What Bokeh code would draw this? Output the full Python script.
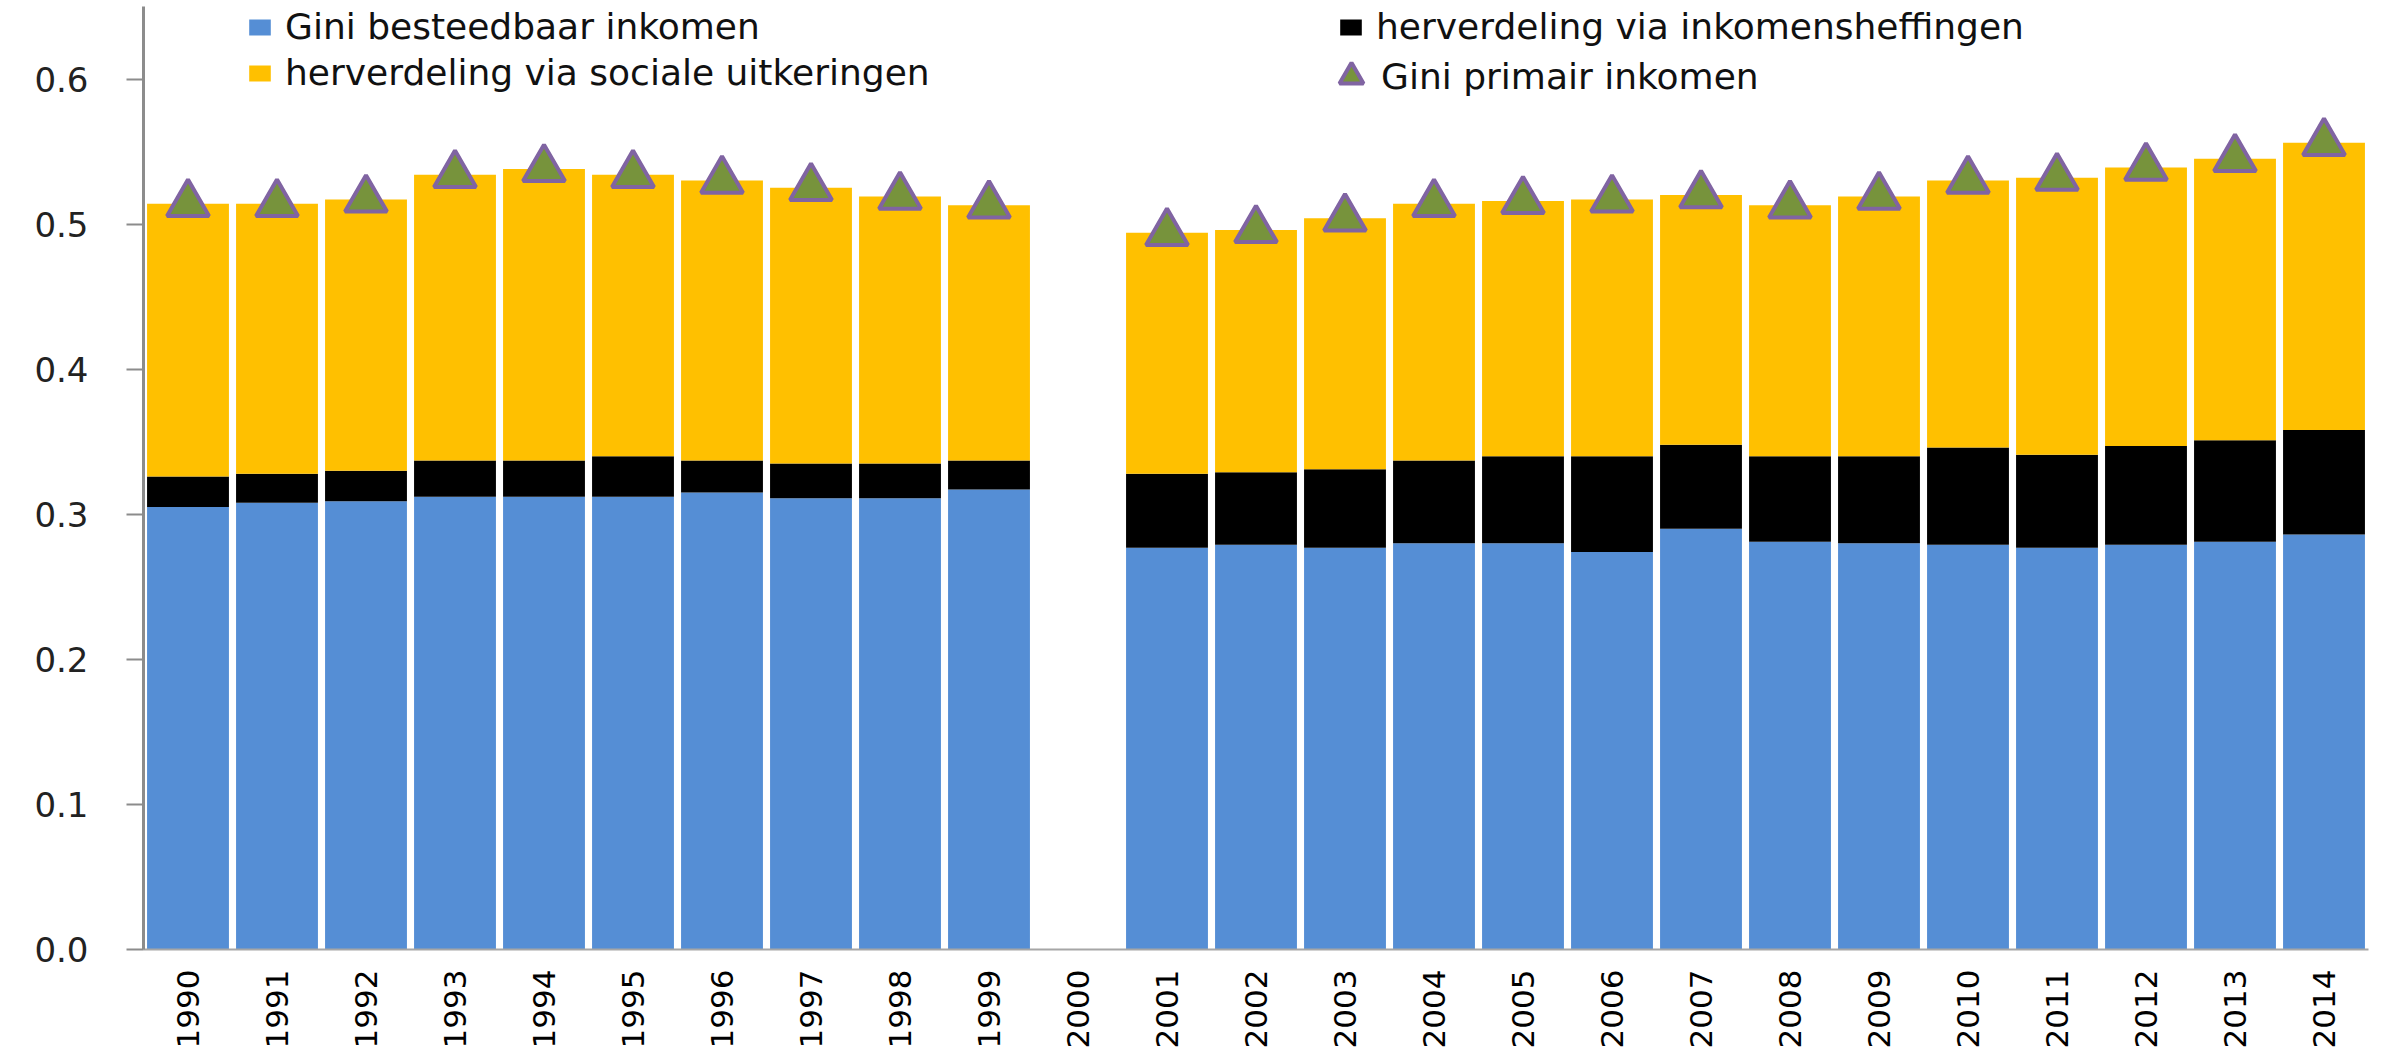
import math
import numpy as np
from bokeh.plotting import figure
from bokeh.models import (ColumnDataSource, FactorRange, Range1d, FixedTicker,
                          NumeralTickFormatter, Legend, LegendItem)
from bokeh.embed import file_html
from bokeh.resources import INLINE

nan = float("nan")

years = [str(y) for y in range(1990, 2015)]

# Gini besteedbaar inkomen (blue)
gini_besteedbaar = [0.305, 0.308, 0.309, 0.312, 0.312, 0.312, 0.315, 0.311, 0.311, 0.317,
                    nan,
                    0.277, 0.279, 0.277, 0.280, 0.280, 0.274, 0.290, 0.281, 0.280,
                    0.279, 0.277, 0.279, 0.281, 0.286]
# herverdeling via inkomensheffingen (black)
herv_heffingen = [0.021, 0.020, 0.021, 0.025, 0.025, 0.028, 0.022, 0.024, 0.024, 0.020,
                  nan,
                  0.051, 0.050, 0.054, 0.057, 0.060, 0.066, 0.058, 0.059, 0.060,
                  0.067, 0.064, 0.068, 0.070, 0.072]
# herverdeling via sociale uitkeringen (yellow)
herv_uitkeringen = [0.188, 0.186, 0.187, 0.197, 0.201, 0.194, 0.193, 0.190, 0.184, 0.176,
                    nan,
                    0.166, 0.167, 0.173, 0.177, 0.176, 0.177, 0.172, 0.173, 0.179,
                    0.184, 0.191, 0.192, 0.194, 0.198]
# Gini primair inkomen (triangles)
gini_primair = [0.514, 0.514, 0.517, 0.534, 0.538, 0.534, 0.530, 0.525, 0.519, 0.513,
                nan,
                0.494, 0.496, 0.504, 0.514, 0.516, 0.517, 0.520, 0.513, 0.519,
                0.530, 0.532, 0.539, 0.545, 0.556]

y_ticks = [0.0, 0.1, 0.2, 0.3, 0.4, 0.5, 0.6]

source = ColumnDataSource(data=dict(
    year=years,
    blue=np.array(gini_besteedbaar, dtype=float),
    black=np.array(herv_heffingen, dtype=float),
    yellow=np.array(herv_uitkeringen, dtype=float),
    prim=np.array(gini_primair, dtype=float),
))

FONT = "DejaVu Sans"

p = figure(x_range=FactorRange(*years), y_range=Range1d(0, 0.65),
           frame_width=2225, frame_height=943,
           min_border_left=143, min_border_right=2, min_border_top=6, min_border_bottom=99,
           output_backend="svg", toolbar_location=None, tools="")

p.outline_line_color = None
p.xgrid.visible = False
p.ygrid.visible = False

bars = p.vbar_stack(["blue", "black", "yellow"], x="year", width=0.92, source=source,
                    color=["#558ED5", "#000000", "#FFC000"], line_color=None)

tri = p.scatter(x="year", y="prim", source=source, marker="triangle", size=42,
                fill_color="#77933C", line_color="#8064A2", line_width=4)

# y axis
p.yaxis.ticker = FixedTicker(ticks=y_ticks)
p.yaxis.formatter = NumeralTickFormatter(format="0.0")
p.yaxis.axis_line_color = "#8C8C8C"
p.yaxis.axis_line_width = 3
p.yaxis.major_tick_line_color = "#8C8C8C"
p.yaxis.major_tick_line_width = 2
p.yaxis.major_tick_out = 17
p.yaxis.major_tick_in = 0
p.yaxis.minor_tick_line_color = None
p.yaxis.major_label_standoff = 38
p.yaxis.major_label_text_font = FONT
p.yaxis.major_label_text_font_size = "34px"
p.yaxis.major_label_text_color = "#222222"

# x axis
p.xaxis.axis_line_color = "#A6A6A6"
p.xaxis.axis_line_width = 2
p.xaxis.major_tick_line_color = None
p.xaxis.major_tick_out = 0
p.xaxis.major_tick_in = 0
p.xaxis.minor_tick_line_color = None
p.xaxis.major_label_orientation = math.pi / 2
p.xaxis.major_label_standoff = 20
p.xaxis.major_label_text_font = FONT
p.xaxis.major_label_text_font_size = "31px"
p.xaxis.major_label_text_color = "#000000"


def make_legend(item, loc, gw, gh, standoff):
    return Legend(items=[item], location=loc, orientation="vertical",
                  padding=0, margin=0, spacing=0,
                  label_text_font=FONT, label_text_font_size="36px",
                  label_text_color="#111111", label_standoff=standoff,
                  glyph_width=gw, glyph_height=gh, label_height=20,
                  border_line_color=None, background_fill_alpha=0)


legends = [
    make_legend(LegendItem(label="Gini besteedbaar inkomen", renderers=[bars[0]]),
                (103, 902), 27, 20, 12),
    make_legend(LegendItem(label="herverdeling via sociale uitkeringen", renderers=[bars[2]]),
                (103, 856), 27, 20, 12),
    make_legend(LegendItem(label="herverdeling via inkomensheffingen", renderers=[bars[1]]),
                (1194, 902), 27, 20, 12),
    make_legend(LegendItem(label="Gini primair inkomen", renderers=[tri]),
                (1178, 843), 60, 60, 0),
]
for lg in legends:
    p.add_layout(lg, "center")

open("out.html", "w").write(file_html(p, INLINE))
